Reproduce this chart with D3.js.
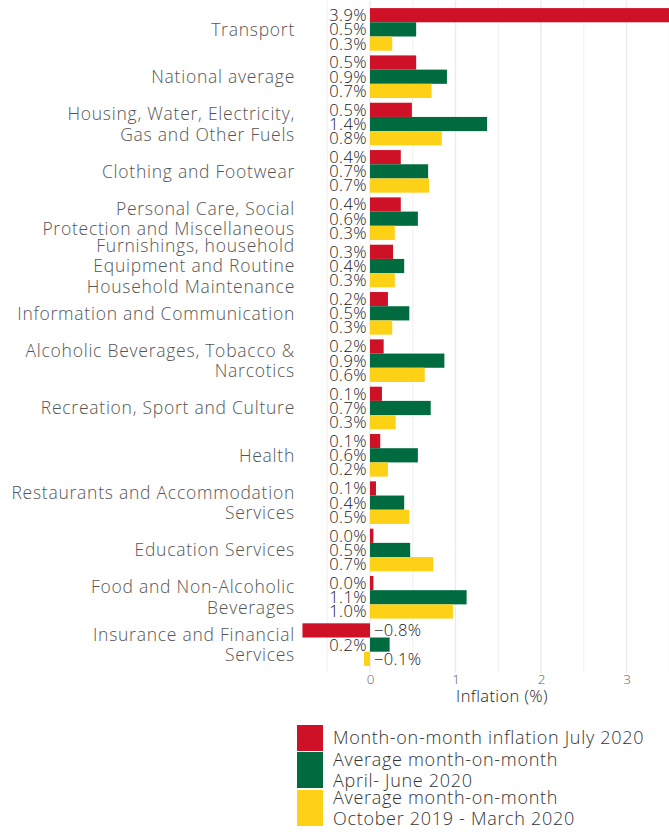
<!DOCTYPE html>
<html>
<head>
<meta charset="utf-8">
<script src="https://cdn.jsdelivr.net/npm/d3@7"></script>
<style>
  body { margin: 0; background: #fff; }
  svg { display: block; font-family: "Open Sans", "Lato", sans-serif; font-weight: 300; }
</style>
</head>
<body>
<div id="container"></div>
<script>
// categories top to bottom, each label split into lines
let categories = [
  "Transport",
  "National average",
  "Housing, Water, Electricity,|Gas and Other Fuels",
  "Clothing and Footwear",
  "Personal Care, Social|Protection and Miscellaneous",
  "Furnishings, household|Equipment and Routine|Household Maintenance",
  "Information and Communication",
  "Alcoholic Beverages, Tobacco &|Narcotics",
  "Recreation, Sport and Culture",
  "Health",
  "Restaurants and Accommodation|Services",
  "Education Services",
  "Food and Non-Alcoholic|Beverages",
  "Insurance and Financial|Services"
];

let july2020 =   [3.9, 0.54, 0.49, 0.36, 0.36, 0.27, 0.21, 0.16, 0.14, 0.12, 0.07, 0.04, 0.04, -0.79];
let aprJun2020 = [0.54, 0.90, 1.37, 0.68, 0.56, 0.40, 0.46, 0.87, 0.71, 0.56, 0.40, 0.47, 1.13, 0.23];
let octMar2020 = [0.26, 0.72, 0.84, 0.69, 0.29, 0.29, 0.26, 0.64, 0.30, 0.21, 0.46, 0.74, 0.97, -0.07];

let seriesKeys = ["july", "aprjun", "octmar"];
let seriesNames = [
  "Month-on-month inflation July 2020",
  "Average month-on-month|April- June 2020",
  "Average month-on-month|October 2019 - March 2020"
];
let seriesColors = ["#CE1126", "#006B3F", "#FCD116"];

let majorTicks = [0, 1, 2, 3];
let minorTicks = [-0.5, 0.5, 1.5, 2.5, 3.5];

let w = 669;
let h = 832;

let viz = d3.select("#container")
  .append("svg")
    .attr("width", w)
    .attr("height", h)
;

let data = categories.map(function(c, i){
  return {cat: c, july: july2020[i], aprjun: aprJun2020[i], octmar: octMar2020[i]};
});

// panel spans past the right edge of the picture (it's cropped there)
let xScale = d3.scaleLinear().domain([-0.842, 3.93]).range([298, 706]);

let yScale = d3.scaleBand()
    .domain(categories)
    .range([1, 673])
    .paddingInner(0.1)
    .paddingOuter(0.15)
;
let subScale = d3.scaleBand()
    .domain(seriesKeys)
    .range([0, yScale.bandwidth()])
;
let colorScale = d3.scaleOrdinal().domain(seriesKeys).range(seriesColors);

// gridlines
let grid = viz.append("g").classed("grid", true);
grid.selectAll(".minor").data(minorTicks).enter().append("line")
  .attr("x1", d => xScale(d)).attr("x2", d => xScale(d))
  .attr("y1", 1).attr("y2", 673)
  .attr("stroke", "#ebebeb").attr("stroke-width", 0.8);
grid.selectAll(".major").data(majorTicks).enter().append("line")
  .attr("x1", d => xScale(d)).attr("x2", d => xScale(d))
  .attr("y1", 1).attr("y2", 673)
  .attr("stroke", "#ebebeb").attr("stroke-width", 1.4);

// bars
let fmt = d3.format(".1f");
let groups = viz.append("g").selectAll(".datapoint").data(data).enter()
  .append("g").classed("datapoint", true)
  .attr("transform", d => "translate(0," + yScale(d.cat) + ")");

groups.selectAll("rect")
  .data(d => seriesKeys.map(k => ({key: k, value: d[k]})))
  .enter().append("rect")
    .attr("x", d => xScale(Math.min(0, d.value)))
    .attr("width", d => Math.abs(xScale(d.value) - xScale(0)))
    .attr("y", d => subScale(d.key))
    .attr("height", subScale.bandwidth())
    .attr("fill", d => colorScale(d.key))
;

groups.selectAll("text")
  .data(d => seriesKeys.map(k => ({key: k, value: d[k]})))
  .enter().append("text")
    .attr("x", d => d.value < 0 ? xScale(0) + 4 : xScale(0) - 3)
    .attr("y", d => subScale(d.key) + subScale.bandwidth() / 2)
    .attr("dy", "0.36em")
    .attr("text-anchor", d => d.value < 0 ? "start" : "end")
    .attr("font-size", 16.5)
    .attr("letter-spacing", 0.4)
    .attr("fill", "#222")
    .text(d => fmt(d.value) + "%")
;

// category labels
let catLabels = viz.append("g").selectAll(".cat").data(categories).enter()
  .append("text")
    .attr("text-anchor", "end")
    .attr("font-size", 17.5)
    .attr("letter-spacing", 0.75)
    .attr("fill", "#555")
    .attr("transform", d => "translate(295," + (yScale(d) + yScale.bandwidth() / 2) + ")");
catLabels.each(function(d){
  let lines = d.split("|");
  let lh = 20.7;
  let off = -(lines.length - 1) * lh / 2;
  d3.select(this).selectAll("tspan").data(lines).enter().append("tspan")
    .attr("x", 0)
    .attr("y", (l, i) => off + i * lh)
    .attr("dy", "0.36em")
    .text(l => l);
});

// x axis
let xAxis = d3.axisBottom(xScale).tickValues(majorTicks).tickFormat(d3.format("d")).tickSize(0).tickPadding(1);
let xAxisGroup = viz.append("g").attr("transform", "translate(0,673)").call(xAxis);
xAxisGroup.select(".domain").remove();
xAxisGroup.selectAll("text")
  .attr("font-size", 13.5)
  .attr("font-family", "'Open Sans', sans-serif")
  .attr("fill", "#666");

viz.append("text")
  .attr("x", 502).attr("y", 696)
  .attr("dy", "0.36em")
  .attr("text-anchor", "middle")
  .attr("font-size", 16.5)
  .attr("letter-spacing", 0.4)
  .attr("fill", "#222")
  .text("Inflation (%)");

// legend
let keyY = [725, 752, 790];
let keyH = [26, 36, 36];
let legend = viz.append("g").selectAll(".legend").data(seriesNames).enter()
  .append("g").attr("transform", (d, i) => "translate(297," + keyY[i] + ")");
legend.append("rect")
  .attr("width", 26)
  .attr("height", (d, i) => keyH[i])
  .attr("fill", (d, i) => seriesColors[i]);
legend.each(function(d, i){
  let lines = d.split("|");
  let lh = 20.5;
  let mid = keyH[i] / 2 - (lines.length - 1) * lh / 2;
  d3.select(this).append("text")
    .attr("font-size", 18)
    .attr("letter-spacing", 0.7)
    .attr("fill", "#333")
    .selectAll("tspan").data(lines).enter().append("tspan")
      .attr("x", 36)
      .attr("y", (l, j) => mid + j * lh)
      .attr("dy", "0.36em")
      .text(l => l);
});
</script>
</body>
</html>
